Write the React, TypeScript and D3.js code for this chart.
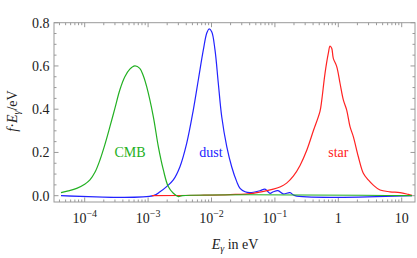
import React from 'react';
import * as d3 from 'd3';

// photon energies (eV) and f·E values
const cmbE = [4.23e-5, 5.5e-5, 7.48e-5, 1.0e-4, 1.21e-4, 1.45e-4, 1.74e-4, 2.1e-4, 2.5e-4, 3.0e-4, 3.58e-4, 4.3e-4, 5.15e-4, 6.17e-4, 7.39e-4, 8.4e-4, 9.5e-4, 1.21e-3, 1.45e-3, 1.74e-3, 2.08e-3, 2.5e-3, 3.0e-3, 3.5e-3, 14.5];
const cmbF = [0.014, 0.022, 0.034, 0.053, 0.073, 0.108, 0.165, 0.24, 0.319, 0.405, 0.489, 0.55, 0.585, 0.6, 0.589, 0.555, 0.504, 0.365, 0.227, 0.119, 0.042, 0.011, -0.004, 0.0, 0.0];

const dustE = [4.23e-5, 1.21e-3, 1.54e-3, 1.96e-3, 2.5e-3, 3.18e-3, 4.06e-3, 5.16e-3, 6.19e-3, 7.43e-3, 8.4e-3, 9.14e-3, 1.007e-2, 1.135e-2, 1.28e-2, 1.45e-2, 1.74e-2, 2.08e-2, 2.5e-2, 2.82e-2, 3.38e-2, 4.05e-2, 5.82e-2, 6.98e-2, 8.37e-2, 9.44e-2, 0.112, 0.136, 0.173, 0.207, 14.5];
const dustF = [0.0, 0.0, 0.018, 0.042, 0.073, 0.134, 0.242, 0.396, 0.535, 0.674, 0.751, 0.771, 0.758, 0.674, 0.52, 0.365, 0.227, 0.134, 0.065, 0.034, 0.018, 0.014, 0.023, 0.03, 0.011, 0.018, 0.023, 0.008, 0.014, 0.0, 0.0];

const starE = [1.15e-3, 6.59e-3, 1.96e-2, 4.51e-2, 9.44e-2, 0.12, 0.153, 0.195, 0.249, 0.318, 0.404, 0.514, 0.547, 0.617, 0.695, 0.74, 0.787, 0.834, 0.944, 1.064, 1.2, 1.356, 1.53, 1.725, 2.07, 2.48, 2.97, 3.56, 4.55, 6.54, 9.4, 12.7, 14.5];
const starF = [0.0, 0.002, 0.005, 0.011, 0.03, 0.04, 0.058, 0.09, 0.14, 0.21, 0.3, 0.39, 0.44, 0.566, 0.658, 0.692, 0.682, 0.635, 0.597, 0.52, 0.443, 0.396, 0.319, 0.273, 0.18, 0.104, 0.073, 0.049, 0.026, 0.018, 0.014, 0.006, 0.002];

const xMajor = [1e-4, 1e-3, 1e-2, 1e-1, 1, 10];
const xLabels = [['10', '−4'], ['10', '−3'], ['10', '−2'], ['10', '−1'], ['1', ''], ['10', '']];
const yMajor = [0, 0.2, 0.4, 0.6, 0.8];

const labels = [
  { text: 'CMB', e: 5.2e-4, v: 0.18, color: '#22b022' },
  { text: 'dust', e: 9.8e-3, v: 0.18, color: '#2222ff' },
  { text: 'star', e: 1.0, v: 0.18, color: '#ff2222' },
];

const W = 417, H = 258;
const left = 54, right = 415, top = 22.7, bottom = 202;

export default function App() {
  const x = d3.scaleLog().domain([3.28e-5, 16.2]).range([left, right]);
  const y = d3.scaleLinear().domain([-0.0292, 0.8]).range([bottom, top]);

  const line = d3.line<[number, number]>()
    .x(d => x(d[0]))
    .y(d => y(d[1]))
    .curve(d3.curveCatmullRom.alpha(0.5));

  const series = [
    { e: dustE, f: dustF, color: '#2222ff' },
    { e: starE, f: starF, color: '#ff2222' },
    { e: cmbE, f: cmbF, color: '#22b022' },
  ];

  // log minor ticks
  const xMinor: number[] = [];
  for (let d = -5; d <= 1; d++) {
    for (let k = 2; k <= 9; k++) {
      const v = k * Math.pow(10, d);
      if (v > 3.28e-5 && v < 16.2) xMinor.push(v);
    }
  }
  const yMinor: number[] = [];
  for (let i = 0; i <= 16; i++) {
    if (i % 4 !== 0) yMinor.push(i * 0.05);
  }

  const frame = '#999';
  const font = "'Liberation Serif', 'Times New Roman', Tinos, 'DejaVu Serif', serif";
  const txt = '#222';

  return (
    <div style={{ position: 'absolute', left: 0, top: 0 }}>
      <svg width={W} height={H} style={{ fontFamily: font, display: 'block' }}>
        <rect x={0} y={0} width={W} height={H} fill="white" />
        {/* frame */}
        <rect x={left} y={top} width={right - left} height={bottom - top} fill="none" stroke={frame} strokeWidth={1} />
        {/* x ticks, bottom and top */}
        {xMajor.map((v, i) => (
          <g key={'xm' + i}>
            <line x1={x(v)} x2={x(v)} y1={bottom} y2={bottom - 4.5} stroke={frame} />
            <line x1={x(v)} x2={x(v)} y1={top} y2={top + 4.5} stroke={frame} />
          </g>
        ))}
        {xMinor.map((v, i) => (
          <g key={'xn' + i}>
            <line x1={x(v)} x2={x(v)} y1={bottom} y2={bottom - 2.5} stroke={frame} />
            <line x1={x(v)} x2={x(v)} y1={top} y2={top + 2.5} stroke={frame} />
          </g>
        ))}
        {/* y ticks, left and right */}
        {yMajor.map((v, i) => (
          <g key={'ym' + i}>
            <line x1={left} x2={left + 4.5} y1={y(v)} y2={y(v)} stroke={frame} />
            <line x1={right} x2={right - 4.5} y1={y(v)} y2={y(v)} stroke={frame} />
          </g>
        ))}
        {yMinor.map((v, i) => (
          <g key={'yn' + i}>
            <line x1={left} x2={left + 2.5} y1={y(v)} y2={y(v)} stroke={frame} />
            <line x1={right} x2={right - 2.5} y1={y(v)} y2={y(v)} stroke={frame} />
          </g>
        ))}
        {/* curves */}
        {series.map((s, i) => (
          <path key={'s' + i} d={line(s.e.map((e, j) => [e, s.f[j]] as [number, number])) || ''}
            fill="none" stroke={s.color} strokeWidth={1.2} />
        ))}
        {/* tick labels */}
        {yMajor.map((v, i) => (
          <text key={'yl' + i} x={49.5} y={y(v)} dy="0.35em" textAnchor="end" fontSize={14} fill={txt}>
            {d3.format('.1f')(v)}
          </text>
        ))}
        {xMajor.map((v, i) => (
          <text key={'xl' + i} x={x(v)} y={222.5} textAnchor="middle" fontSize={14} fill={txt}>
            {xLabels[i][0]}
            {xLabels[i][1] && <tspan fontSize={10} dy={-5.5}>{xLabels[i][1]}</tspan>}
          </text>
        ))}
        {/* curve labels */}
        {labels.map((l, i) => (
          <text key={'l' + i} x={x(l.e)} y={y(l.v)} textAnchor="middle" fontSize={14} fill={l.color}>
            {l.text}
          </text>
        ))}
        {/* axis titles */}
        <text x={235} y={249} textAnchor="middle" fontSize={14} fill={txt}>
          <tspan fontStyle="italic">E</tspan>
          <tspan fontStyle="italic" fontSize={10} dy={3}>γ</tspan>
          <tspan dy={-3}> in eV</tspan>
        </text>
        <text transform="translate(17,111) rotate(-90)" textAnchor="middle" fontSize={14} fill={txt}>
          <tspan fontStyle="italic">f</tspan>
          <tspan>·</tspan>
          <tspan fontStyle="italic">E</tspan>
          <tspan fontStyle="italic" fontSize={10} dy={3}>γ</tspan>
          <tspan dy={-3}>/eV</tspan>
        </text>
      </svg>
    </div>
  );
}
